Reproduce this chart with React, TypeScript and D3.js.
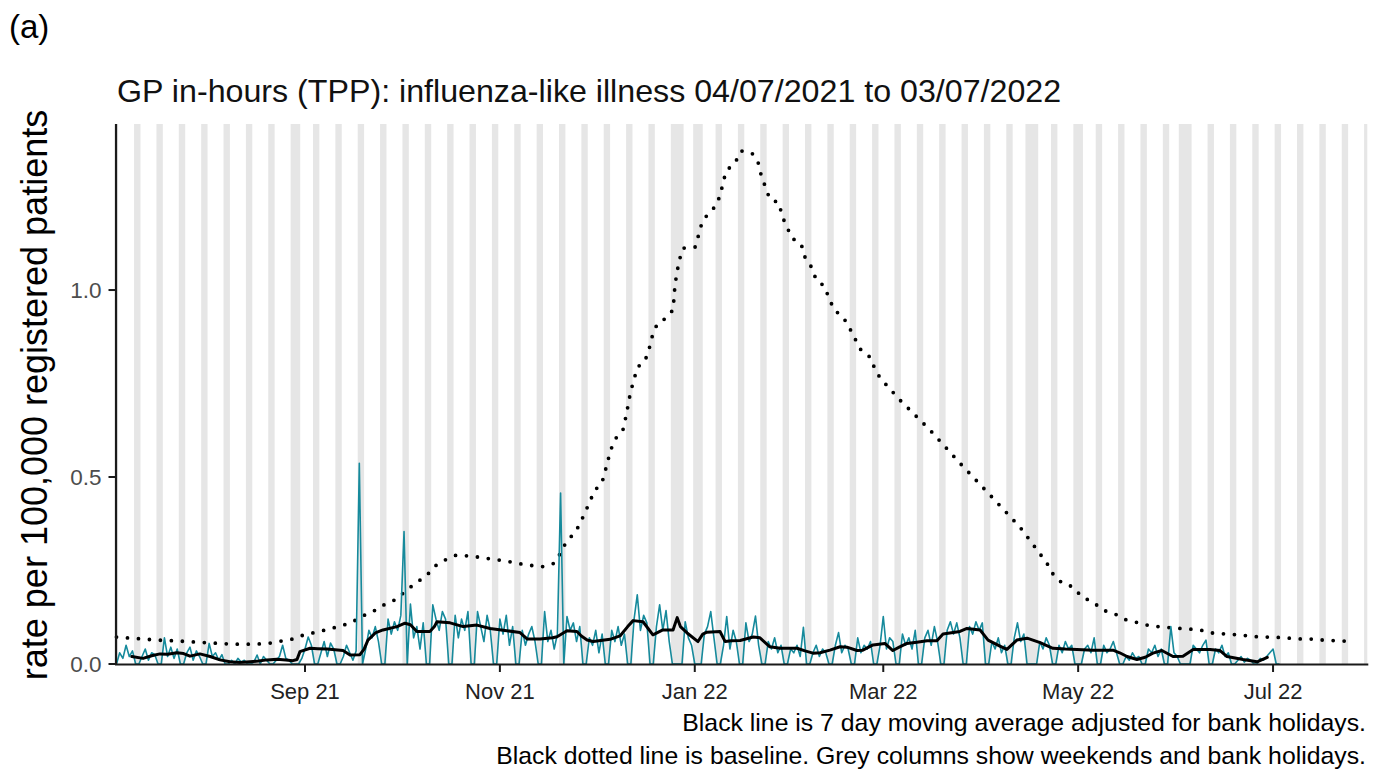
import React from "react";
import * as d3 from "d3";

// ---------- data ----------
const START_DATE = "2021-07-04";
const AXIS_END = "2022-07-30T12:00:00Z";

const panelLabel = "(a)";
const titleText = "GP in-hours (TPP): influenza-like illness 04/07/2021 to 03/07/2022";
const yAxisTitle = "rate per 100,000 registered patients";
const footnote1 = "Black line is 7 day moving average adjusted for bank holidays.";
const footnote2 = "Black dotted line is baseline. Grey columns show weekends and bank holidays.";

const xTickDates = ["2021-09-01", "2021-11-01", "2022-01-01", "2022-03-01", "2022-05-01", "2022-07-01"];
const yTickValues = [0, 0.5, 1.0];

const bankHolidays = [
  "2021-08-30", "2021-12-27", "2021-12-28", "2022-01-03",
  "2022-04-15", "2022-04-18", "2022-05-02", "2022-06-02", "2022-06-03",
];

// daily rate, one row per week, Sun..Sat, starting Sun 04/07/2021
const dailyRateByWeek: number[][] = [
  [0, 0.03, 0.015, 0.05, 0.02, 0.035, 0],
  [0, 0.02, 0.04, 0.01, 0.03, 0.025, 0],
  [0, 0.07, 0.02, 0.045, 0.015, 0.04, 0],
  [0, 0.03, 0.045, 0.01, 0.035, 0.02, 0],
  [0, 0.055, 0.02, 0.03, 0.01, 0.025, 0],
  [0, 0.01, 0.0, 0.015, 0.005, 0.01, 0],
  [0, 0.005, 0.024, 0.0, 0.02, 0.01, 0],
  [0, 0.01, 0.02, 0.05, 0.015, 0.01, 0],
  [0, 0, 0.015, 0.04, 0.072, 0.05, 0],
  [0, 0.03, 0.06, 0.02, 0.056, 0.04, 0],
  [0, 0.02, 0.05, 0.03, 0.01, 0.035, 0.537],
  [0, 0.04, 0.09, 0.07, 0.1, 0.06, 0],
  [0, 0.12, 0.08, 0.113, 0.09, 0.13, 0.354],
  [0, 0.16, 0.07, 0.1, 0.04, 0.11, 0],
  [0, 0.158, 0.12, 0.09, 0.14, 0.12, 0],
  [0, 0.13, 0.07, 0.12, 0.09, 0.14, 0],
  [0, 0.14, 0.1, 0.06, 0.13, 0.09, 0],
  [0, 0.12, 0.08, 0.13, 0.05, 0.1, 0],
  [0, 0.09, 0.05, 0.08, 0.1, 0.06, 0],
  [0, 0.14, 0.06, 0.09, 0.04, 0.08, 0.457],
  [0, 0.127, 0.09, 0.11, 0.06, 0.1, 0],
  [0, 0.07, 0.05, 0.09, 0.03, 0.08, 0],
  [0, 0.09, 0.06, 0.1, 0.05, 0.08, 0],
  [0, 0.12, 0.185, 0.09, 0.13, 0.11, 0],
  [0, 0.1, 0.158, 0.09, 0.143, 0.06, 0],
  [0, 0, 0, 0.113, 0.07, 0.05, 0],
  [0, 0, 0.08, 0.1, 0.14, 0.07, 0],
  [0, 0.05, 0.127, 0.04, 0.09, 0.06, 0],
  [0, 0.11, 0.06, 0.08, 0.128, 0.05, 0],
  [0, 0.06, 0.04, 0.07, 0.03, 0.05, 0],
  [0, 0.04, 0.03, 0.05, 0.02, 0.098, 0],
  [0, 0.03, 0.05, 0.02, 0.04, 0.03, 0],
  [0, 0.05, 0.084, 0.03, 0.05, 0.04, 0],
  [0, 0.07, 0.03, 0.05, 0.04, 0.06, 0],
  [0, 0.05, 0.127, 0.04, 0.07, 0.06, 0],
  [0, 0.08, 0.05, 0.07, 0.04, 0.09, 0],
  [0, 0.07, 0.09, 0.05, 0.1, 0.06, 0],
  [0, 0.09, 0.113, 0.08, 0.11, 0.07, 0],
  [0, 0.1, 0.08, 0.113, 0.09, 0.11, 0],
  [0, 0.06, 0.04, 0.07, 0.03, 0.05, 0],
  [0, 0.07, 0.11, 0.06, 0.08, 0, 0],
  [0, 0, 0.06, 0.04, 0.07, 0.05, 0],
  [0, 0.05, 0.03, 0.06, 0.04, 0.05, 0],
  [0, 0, 0.04, 0.05, 0.03, 0.07, 0],
  [0, 0.05, 0.03, 0.04, 0.06, 0.03, 0],
  [0, 0.02, 0.01, 0.03, 0.015, 0.02, 0],
  [0, 0.04, 0.03, 0.05, 0.02, 0.04, 0],
  [0, 0.1, 0.03, 0.02, 0, 0, 0],
  [0, 0.05, 0.04, 0.03, 0.05, 0.064, 0],
  [0, 0.04, 0.03, 0.05, 0.02, 0.03, 0],
  [0, 0.01, 0.02, 0.005, 0.015, 0.01, 0],
  [0, 0.015, 0.01, 0.02, 0.03, 0.04, 0],
  [0],
];

// 7 day moving average: [days after 04/07/2021, value]
const movingAverage: [number, number][] = [
  [4.8, 0.02], [8.3, 0.015], [11, 0.022], [13.6, 0.027], [16, 0.026], [18.9, 0.03], [21, 0.028],
  [23, 0.021], [26.1, 0.027], [29.3, 0.02], [32.4, 0.011], [35.5, 0.006], [38.5, 0.004], [41.8, 0.006],
  [44.5, 0.008], [47.1, 0.011], [50.2, 0.013], [53, 0.011], [55.2, 0.009], [56.5, 0.012], [57.4, 0.033],
  [60.6, 0.042], [63, 0.041], [65.9, 0.04], [70.9, 0.036], [73.1, 0.024], [76.2, 0.025], [77.5, 0.04],
  [78.7, 0.064], [81, 0.083], [83.4, 0.091], [87.8, 0.1], [90.3, 0.109], [92, 0.105], [94, 0.087],
  [98.1, 0.087], [99.5, 0.1], [100.3, 0.113], [104.4, 0.11], [108.5, 0.1], [112.8, 0.104], [116.9, 0.095],
  [122.2, 0.089], [126.3, 0.084], [128.5, 0.067], [132.6, 0.067], [136.5, 0.07], [137.9, 0.073],
  [141, 0.089], [144.1, 0.087], [145.5, 0.075], [147.3, 0.064], [149.2, 0.06], [154.5, 0.066],
  [157.6, 0.075], [160, 0.1], [161.7, 0.116], [164.8, 0.113], [167.9, 0.078], [171, 0.091], [174.2, 0.091],
  [175.5, 0.124], [176.5, 0.1], [178.6, 0.083], [182, 0.06], [183.5, 0.08], [184.8, 0.085], [188.9, 0.087],
  [190.5, 0.06], [192.5, 0.062], [195.2, 0.063], [197.5, 0.068], [199.3, 0.072], [201.4, 0.07],
  [204.5, 0.046], [207.7, 0.042], [213, 0.042], [215.5, 0.035], [218, 0.029], [220.2, 0.03], [223.3, 0.037],
  [226.5, 0.046], [228.6, 0.045], [231.8, 0.036], [233.6, 0.037], [236.8, 0.051], [240.5, 0.055],
  [243, 0.036], [245, 0.045], [247.4, 0.055], [250.5, 0.058], [253.7, 0.062], [256.8, 0.062], [258.7, 0.08],
  [264, 0.087], [266.2, 0.095], [270.3, 0.091], [272.8, 0.064], [276.5, 0.048], [278.7, 0.039],
  [281.8, 0.064], [285, 0.069], [289.1, 0.057], [293.1, 0.042], [297, 0.04], [300.6, 0.039], [305.6, 0.037],
  [311.9, 0.037], [314, 0.03], [316.3, 0.02], [319.4, 0.012], [322, 0.018], [324.4, 0.029], [327.2, 0.036],
  [330.7, 0.02], [333.8, 0.021], [337, 0.039], [342.3, 0.039], [345.4, 0.036], [347.6, 0.02], [352.6, 0.012],
  [357, 0.006], [360.2, 0.018],
];

// baseline: [days after 04/07/2021, value]
const baseline: [number, number][] = [
  [0, 0.072], [4.8, 0.069], [12.6, 0.064], [20.4, 0.061], [28.2, 0.057], [36.1, 0.053], [43.3, 0.053],
  [47.5, 0.055], [51.2, 0.061], [55.3, 0.067], [59, 0.079], [62.7, 0.085], [66.3, 0.093], [70, 0.101],
  [73.6, 0.111], [76.7, 0.127], [80.2, 0.14], [83.7, 0.158], [87.5, 0.173], [90.6, 0.196], [93.7, 0.217],
  [96.9, 0.235], [99.7, 0.262], [102.8, 0.278], [106.3, 0.291], [110.1, 0.289], [114, 0.285], [117.7, 0.28],
  [121.6, 0.276], [125.6, 0.269], [129.4, 0.264], [133.2, 0.26], [136.9, 0.269], [139.1, 0.298],
  [140.9, 0.329], [143.3, 0.349], [145.1, 0.375], [146.6, 0.405], [148.2, 0.434], [149.5, 0.463],
  [151.9, 0.483], [152.9, 0.514], [153.9, 0.547], [155, 0.579], [156.7, 0.61], [158.6, 0.628],
  [159.4, 0.66], [160.2, 0.695], [160.9, 0.728], [162, 0.761], [163, 0.793], [165.4, 0.81], [166.7, 0.842],
  [167.6, 0.874], [169.2, 0.909], [172, 0.925], [174.2, 0.947], [174.5, 0.979], [174.8, 1.013],
  [175.4, 1.045], [176.1, 1.078], [177.3, 1.112], [181.1, 1.115], [182.3, 1.15], [183.3, 1.182],
  [185.1, 1.203], [187.6, 1.225], [189.2, 1.259], [189.8, 1.289], [191.1, 1.321], [193.6, 1.34],
  [195.5, 1.372], [198.9, 1.366], [200.8, 1.342], [201.7, 1.31], [203, 1.278], [204.5, 1.243],
  [207.4, 1.233], [208.3, 1.198], [209.9, 1.168], [211.4, 1.139], [214.3, 1.123], [215.5, 1.088],
  [217.7, 1.059], [219, 1.027], [221.5, 1.011], [223, 0.979], [224.6, 0.947], [227.4, 0.928],
  [229.3, 0.901], [231.2, 0.869], [233, 0.84], [235.8, 0.821], [237.4, 0.789], [239, 0.765],
  [245.2, 0.706], [254.6, 0.626], [264, 0.537], [273.4, 0.452], [282.8, 0.366], [291.2, 0.27],
  [293.1, 0.241], [295.9, 0.217], [299.4, 0.206], [302.2, 0.179], [305.6, 0.166], [308.8, 0.144],
  [312.5, 0.134], [316, 0.118], [320, 0.11], [323.5, 0.102], [327.6, 0.099], [331.3, 0.096],
  [335.1, 0.094], [339.1, 0.091], [342.9, 0.083], [347.6, 0.08], [351, 0.078], [357.9, 0.072],
  [362, 0.072], [365.8, 0.07], [369.5, 0.067], [373.6, 0.067], [377.6, 0.064], [385.1, 0.061],
];

// ---------- component ----------
const FONT = "'Liberation Sans', Arial, Helvetica, sans-serif";
const DAY = 864e5;

export default function App() {
  const W = 1376;
  const H = 774;
  const plot = { left: 116.5, right: 1367.3, top: 124, bottom: 664 };

  const start = new Date(START_DATE + "T00:00:00Z");
  const dayToDate = (d: number) => new Date(start.getTime() + d * DAY);

  const x = d3.scaleUtc().domain([start, new Date(AXIS_END)]).range([plot.left, plot.right]);
  const y = d3.scaleLinear().domain([0, 1.444]).range([plot.bottom, plot.top]);

  // grey columns: weekends and bank holidays, merged into runs
  const fmtDay = d3.utcFormat("%Y-%m-%d");
  const bh = new Set(bankHolidays);
  const runs: [number, number][] = [];
  let runStart: number | null = null;
  for (let i = -2; i <= 393; i++) {
    const dt = dayToDate(i);
    const wd = dt.getUTCDay();
    const grey = wd === 0 || wd === 6 || bh.has(fmtDay(dt));
    if (grey && runStart === null) runStart = i;
    if (!grey && runStart !== null) {
      runs.push([runStart, i - 1]);
      runStart = null;
    }
  }
  const columns = runs
    .map(([s, e]) => {
      const x0 = Math.max(plot.left, x(dayToDate(s - 0.5)));
      const x1 = Math.min(plot.right, x(dayToDate(e + 0.5)));
      return { x0, x1 };
    })
    .filter((c) => c.x1 > c.x0);

  const daily = dailyRateByWeek.flat().map((v, i) => ({ date: dayToDate(i), value: v }));

  const dailyLine = d3
    .line<{ date: Date; value: number }>()
    .x((d) => x(d.date))
    .y((d) => y(d.value));
  const pairLine = d3
    .line<[number, number]>()
    .x((d) => x(dayToDate(d[0])))
    .y((d) => y(d[1]));

  const fmtTick = d3.utcFormat("%b %y");

  return (
    <svg
      width={W}
      height={H}
      viewBox={`0 0 ${W} ${H}`}
      style={{ position: "absolute", left: 0, top: 0, display: "block", background: "#ffffff" }}
      fontFamily={FONT}
    >
      <rect x={0} y={0} width={W} height={H} fill="#ffffff" />

      <text x={9} y={38} fontSize={33} fill="#000">{panelLabel}</text>
      <text x={117} y={102} fontSize={32.2} fill="#111">{titleText}</text>

      {/* grey columns */}
      <g>
        {columns.map((c, i) => (
          <rect key={i} x={c.x0} y={plot.top} width={c.x1 - c.x0} height={plot.bottom - plot.top} fill="#e6e6e6" />
        ))}
      </g>

      {/* baseline (dotted) */}
      <path
        d={pairLine(baseline) || ""}
        fill="none"
        stroke="#000"
        strokeWidth={3.8}
        strokeLinecap="round"
        strokeDasharray="0 11"
      />

      {/* daily rate */}
      <path
        d={dailyLine(daily) || ""}
        fill="none"
        stroke="#168a9c"
        strokeWidth={1.6}
        strokeLinejoin="round"
      />

      {/* moving average */}
      <path
        d={pairLine(movingAverage) || ""}
        fill="none"
        stroke="#000"
        strokeWidth={3}
        strokeLinejoin="round"
        strokeLinecap="round"
      />

      {/* axes */}
      <line x1={plot.left - 0.5} x2={plot.left - 0.5} y1={plot.top} y2={plot.bottom + 1} stroke="#1a1a1a" strokeWidth={2.2} />
      <line x1={plot.left - 1.5} x2={plot.right + 1} y1={plot.bottom + 0.5} y2={plot.bottom + 0.5} stroke="#1a1a1a" strokeWidth={2.2} />

      {yTickValues.map((v) => (
        <g key={v}>
          <line x1={plot.left - 8} x2={plot.left - 0.5} y1={y(v)} y2={y(v)} stroke="#1a1a1a" strokeWidth={2} />
          <text x={plot.left - 15} y={y(v)} dy="0.36em" textAnchor="end" fontSize={22.5} fill="#4d4d4d">
            {d3.format(".1f")(v)}
          </text>
        </g>
      ))}

      {xTickDates.map((s) => {
        const d = new Date(s + "T00:00:00Z");
        const px = x(d);
        return (
          <g key={s}>
            <line x1={px} x2={px} y1={plot.bottom + 0.5} y2={plot.bottom + 8} stroke="#1a1a1a" strokeWidth={2} />
            <text x={px} y={699} textAnchor="middle" fontSize={22} fill="#222">
              {fmtTick(d)}
            </text>
          </g>
        );
      })}

      <text
        transform={`translate(47, ${(plot.top + plot.bottom) / 2 + 1}) rotate(-90)`}
        textAnchor="middle"
        fontSize={36}
        fill="#000"
      >
        {yAxisTitle}
      </text>

      <text x={1366} y={731} textAnchor="end" fontSize={24.8} fill="#000">{footnote1}</text>
      <text x={1366} y={764} textAnchor="end" fontSize={24.8} fill="#000">{footnote2}</text>
    </svg>
  );
}
